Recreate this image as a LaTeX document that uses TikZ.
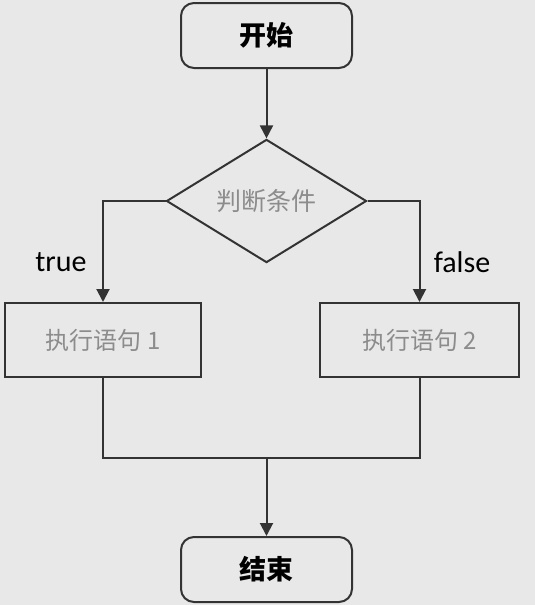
\documentclass[tikz,border=0pt]{standalone}
\usepackage{fontspec}
\setmainfont{Carlito}
\newfontfamily\cjk{Noto Sans CJK SC}
\usetikzlibrary{shapes.geometric,arrows.meta}
\definecolor{bg}{HTML}{E8E8E8}
\definecolor{ln}{HTML}{333333}
\definecolor{gtxt}{HTML}{8C8C8C}
\tikzset{
  term/.style={draw=ln, line width=2pt, rounded corners=13pt, minimum width=171pt, minimum height=65pt, inner sep=0pt, font=\cjk\bfseries\fontsize{27}{31}\selectfont, text=black},
  proc/.style={draw=ln, line width=2pt, minimum height=74pt, inner sep=0pt, font=\cjk\fontsize{24}{28}\selectfont, text=gtxt},
  cond/.style={draw=ln, line width=2pt, diamond, minimum width=200pt, minimum height=121pt, inner sep=0pt, font=\cjk\fontsize{25}{29}\selectfont, text=gtxt},
  conn/.style={draw=ln, line width=2pt},
  arr/.style={conn, -{Triangle[length=13pt,width=13pt]}},
  lbl/.style={font=\fontsize{30}{35}\selectfont, text=black, inner sep=0pt}
}
\begin{document}
\begin{tikzpicture}[x=1pt,y=-1pt]
\fill[bg] (0,0) rectangle (535,605);
\useasboundingbox (0,0) rectangle (535,605);
\node[term] (start) at (266.5,35.5) {开始};
\node[cond] (c) at (266.5,201) {判断条件};
\node[proc, minimum width=196pt] (b1) at (103,340) {执行语句 1};
\node[proc, minimum width=199pt] (b2) at (419.5,340) {执行语句 2};
\node[term] (end) at (266.5,569.5) {结束};
\node[lbl] (t) at (61,262) {true};
\node[lbl] (f) at (462,262) {false};
\coordinate (j) at (266.5,458);
\draw[arr] (start) -- (c);
\draw[arr] (c.west) -| (b1.north);
\draw[arr] (c.east) -| (b2.north);
\draw[conn] (b1.south) |- (j) -| (b2.south);
\draw[arr] (j) -- (end);
\end{tikzpicture}
\end{document}
